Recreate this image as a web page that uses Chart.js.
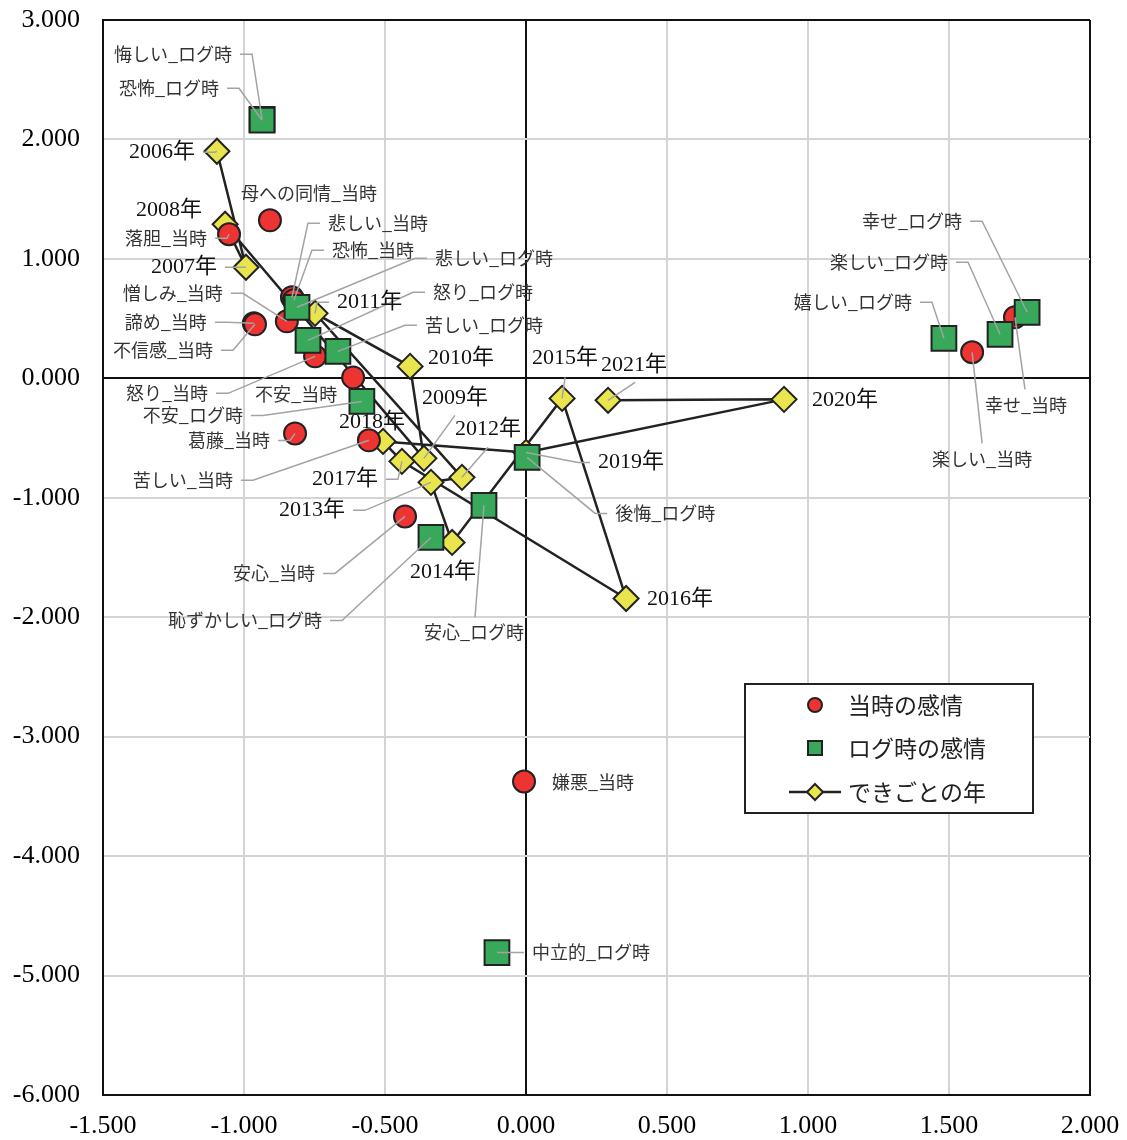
<!DOCTYPE html>
<html><head><meta charset="utf-8">
<script src="https://cdn.jsdelivr.net/npm/chart.js@4/dist/chart.umd.min.js"></script>
<style>html,body{margin:0;padding:0;background:#fff;}canvas{display:block}</style>
</head><body>
<canvas id="c" width="1127" height="1140"></canvas>
<script>
// ---- data ----
const seriesNames = ['当時の感情', 'ログ時の感情', 'できごとの年'];
const xTicks = [-1.5, -1.0, -0.5, 0, 0.5, 1.0, 1.5, 2.0];
const yTicks = [3, 2, 1, 0, -1, -2, -3, -4, -5, -6];

const nowNames = ['母への同情_当時','落胆_当時','悲しい_当時','恐怖_当時','憎しみ_当時','諦め_当時','不信感_当時','怒り_当時','不安_当時','葛藤_当時','苦しい_当時','安心_当時','嫌悪_当時','幸せ_当時','楽しい_当時'];
const nowX = [-0.908,-1.053,-0.830,-0.823,-0.848,-0.965,-0.961,-0.748,-0.613,-0.819,-0.557,-0.429,-0.007,1.734,1.582];
const nowY = [1.323,1.206,0.678,0.653,0.477,0.461,0.452,0.184,0.008,-0.461,-0.519,-1.156,-3.375,0.511,0.218];

const logNames = ['悔しい_ログ時','恐怖_ログ時','悲しい_ログ時','怒り_ログ時','苦しい_ログ時','不安_ログ時','恥ずかしい_ログ時','安心_ログ時','後悔_ログ時','中立的_ログ時','嬉しい_ログ時','楽しい_ログ時','幸せ_ログ時'];
const logX = [-0.936,-0.936,-0.812,-0.773,-0.667,-0.582,-0.337,-0.149,0.004,-0.103,1.482,1.681,1.777];
const logY = [2.169,2.161,0.595,0.318,0.226,-0.193,-1.332,-1.064,-0.662,-4.807,0.335,0.369,0.553];

const yearNames = ['2006年','2007年','2008年','2009年','2010年','2011年','2012年','2013年','2014年','2015年','2016年','2017年','2018年','2019年','2020年','2021年'];
const yearX = [-1.096,-0.993,-1.067,-0.362,-0.411,-0.748,-0.227,-0.337,-0.262,0.128,0.355,-0.440,-0.507,0.000,0.915,0.291];
const yearY = [1.901,0.930,1.290,-0.670,0.100,0.544,-0.829,-0.871,-1.374,-0.168,-1.843,-0.695,-0.528,-0.620,-0.176,-0.184];

// ---- label layout (pixel offsets from the marker; styling only) ----
// [dx, dy, align, leader]  leader: 'h' elbow, [lx,ly] straight from offset, 0 none
const labelLayout = {
  '母への同情_当時':[39,-27,'c',0],
  '落胆_当時':[-22,4,'r','h'],
  '悲しい_当時':[36,-74,'l','h'],
  '恐怖_当時':[38,-50,'l','h'],
  '憎しみ_当時':[-64,-28,'r','h'],
  '諦め_当時':[-47,-1,'r','h'],
  '不信感_当時':[-42,26,'r','h'],
  '怒り_当時':[-107,37,'r','h'],
  '不安_当時':[-16,17,'r',0],
  '葛藤_当時':[-25,7,'r','h'],
  '苦しい_当時':[-136,40,'r','h'],
  '安心_当時':[-90,57,'r','h'],
  '嫌悪_当時':[28,1,'l',0],
  '幸せ_当時':[11,88,'c',[10,72]],
  '楽しい_当時':[10,107,'c',[10,91]],
  '悔しい_ログ時':[-30,-65,'r','h'],
  '恐怖_ログ時':[-43,-32,'r','h'],
  '悲しい_ログ時':[138,-49,'l','h'],
  '怒り_ログ時':[125,-48,'l','h'],
  '苦しい_ログ時':[87,-26,'l','h'],
  '不安_ログ時':[-119,14,'r','h'],
  '恥ずかしい_ログ時':[-109,83,'r','h'],
  '安心_ログ時':[-10,127,'c',[-9,112]],
  '後悔_ログ時':[88,56,'l','h'],
  '中立的_ログ時':[35,0,'l','h'],
  '嬉しい_ログ時':[-32,-36,'r','h'],
  '楽しい_ログ時':[-52,-72,'r','h'],
  '幸せ_ログ時':[-65,-91,'r','h'],
  '2006年':[-22,1,'r','h'],
  '2007年':[-29,0,'r','h'],
  '2008年':[-23,-14,'r',0],
  '2009年':[31,-60,'c',[31,-43]],
  '2010年':[18,-8,'l',0],
  '2011年':[22,-11,'l','h'],
  '2012年':[26,-48,'c',[26,-30]],
  '2013年':[-86,28,'r','h'],
  '2014年':[-9,30,'c',0],
  '2015年':[3,-40,'c',[3,-21]],
  '2016年':[21,1,'l',0],
  '2017年':[-24,18,'r','h'],
  '2018年':[-11,-19,'c',0],
  '2019年':[72,10,'l','h'],
  '2020年':[28,1,'l',0],
  '2021年':[26,-35,'c',[27,-18]]
};

const RED = '#EE3333', GREEN = '#38A95A', YELLOW = '#E9E54F', EDGE = '#222222';
const EMO_FONT = "18px 'Noto Sans CJK JP', sans-serif";
const YEAR_FONT = "22px 'Liberation Serif', 'Noto Sans CJK JP', serif";

const toPts = (xs, ys) => xs.map((x, i) => ({x: x, y: ys[i]}));

const labelPlugin = {
  id: 'pointLabels',
  afterDatasetsDraw(chart) {
    const ctx = chart.ctx;
    chart.data.datasets.forEach((ds, di) => {
      const meta = chart.getDatasetMeta(di);
      meta.data.forEach((pt, i) => {
        const name = ds.names[i];
        const lay = labelLayout[name];
        if (!lay) return;
        const [dx, dy, al, ld] = lay;
        const ax = pt.x + dx, ay = pt.y + dy;
        ctx.save();
        ctx.strokeStyle = '#a3a3a3';
        ctx.lineWidth = 1.5;
        if (ld === 'h') {
          const s = al === 'r' ? 1 : -1;
          ctx.beginPath();
          ctx.moveTo(ax + s * 8, ay);
          ctx.lineTo(ax + s * 20, ay);
          ctx.lineTo(pt.x, pt.y);
          ctx.stroke();
        } else if (Array.isArray(ld)) {
          ctx.beginPath();
          ctx.moveTo(pt.x + ld[0], pt.y + ld[1]);
          ctx.lineTo(pt.x, pt.y);
          ctx.stroke();
        }
        ctx.font = ds.labelFont;
        ctx.fillStyle = ds.labelColor;
        ctx.textBaseline = 'middle';
        ctx.textAlign = al === 'l' ? 'left' : (al === 'r' ? 'right' : 'center');
        ctx.fillText(name, ax, ay);
        ctx.restore();
      });
    });
  }
};

const legendPlugin = {
  id: 'boxLegend',
  afterDraw(chart) {
    const ctx = chart.ctx;
    const a = chart.chartArea;
    const bx = a.left + 642, by = a.top + 664, bw = 288, bh = 129;
    ctx.save();
    ctx.fillStyle = '#fff';
    ctx.fillRect(bx, by, bw, bh);
    ctx.strokeStyle = '#222';
    ctx.lineWidth = 2;
    ctx.strokeRect(bx, by, bw, bh);
    const mx = bx + 70, tx = bx + 103;
    const rows = [by + 21, by + 64, by + 108];
    ctx.lineWidth = 2;
    ctx.strokeStyle = EDGE;
    ctx.fillStyle = RED;
    ctx.beginPath(); ctx.arc(mx, rows[0], 7, 0, Math.PI * 2); ctx.fill(); ctx.stroke();
    ctx.fillStyle = GREEN;
    ctx.fillRect(mx - 7, rows[1] - 7, 14, 14); ctx.strokeRect(mx - 7, rows[1] - 7, 14, 14);
    ctx.beginPath(); ctx.moveTo(mx - 26, rows[2]); ctx.lineTo(mx + 26, rows[2]); ctx.lineWidth = 2.5; ctx.stroke();
    ctx.lineWidth = 2;
    ctx.fillStyle = YELLOW;
    ctx.beginPath();
    ctx.moveTo(mx, rows[2] - 8); ctx.lineTo(mx + 8, rows[2]); ctx.lineTo(mx, rows[2] + 8); ctx.lineTo(mx - 8, rows[2]); ctx.closePath();
    ctx.fill(); ctx.stroke();
    ctx.font = "23px 'Noto Sans CJK JP', sans-serif";
    ctx.fillStyle = '#222';
    ctx.textBaseline = 'middle';
    ctx.textAlign = 'left';
    seriesNames.forEach((s, i) => ctx.fillText(s, tx, rows[i]));
    ctx.restore();
  }
};

const edgeColor = (ctx, lo, hi) => {
  const v = ctx.tick ? ctx.tick.value : null;
  return (v === 0 || v === lo || v === hi) ? '#111' : '#d4d4d4';
};

new Chart(document.getElementById('c'), {
  type: 'scatter',
  data: {
    datasets: [
      {
        label: seriesNames[0], names: nowNames, data: toPts(nowX, nowY),
        pointStyle: 'circle', pointRadius: 11, pointHoverRadius: 11,
        backgroundColor: RED, borderColor: EDGE, borderWidth: 2,
        labelFont: EMO_FONT, labelColor: '#333', order: 1
      },
      {
        label: seriesNames[1], names: logNames, data: toPts(logX, logY),
        pointStyle: 'rect', pointRadius: 17.5, pointHoverRadius: 17.5,
        backgroundColor: GREEN, borderColor: EDGE, borderWidth: 2,
        labelFont: EMO_FONT, labelColor: '#333', order: 0
      },
      {
        label: seriesNames[2], names: yearNames, data: toPts(yearX, yearY),
        showLine: true, borderColor: EDGE, borderWidth: 2.5,
        pointStyle: 'rectRot', pointRadius: 12.5, pointHoverRadius: 12.5,
        pointBackgroundColor: YELLOW, pointBorderColor: EDGE, pointBorderWidth: 2,
        labelFont: YEAR_FONT, labelColor: '#111', order: 2
      }
    ]
  },
  options: {
    responsive: false,
    animation: false,
    events: [],
    layout: { padding: { top: 20, right: 37, left: 0, bottom: 0 } },
    plugins: { legend: { display: false }, tooltip: { enabled: false } },
    scales: {
      x: {
        type: 'linear', min: -1.5, max: 2.0,
        afterBuildTicks: s => { s.ticks = xTicks.map(v => ({ value: v })); },
        afterFit: s => { s.height = 45; },
        grid: { color: c => edgeColor(c, -1.5, 2.0), lineWidth: 2, drawTicks: true, tickLength: 16, tickColor: 'rgba(0,0,0,0)' },
        border: { display: true, color: '#111', width: 2 },
        ticks: { color: '#000', padding: 0, maxRotation: 0, autoSkip: false,
          font: { family: "'Liberation Serif', serif", size: 26 },
          callback: v => Number(v).toFixed(3) }
      },
      y: {
        type: 'linear', min: -6, max: 3,
        afterBuildTicks: s => { s.ticks = yTicks.map(v => ({ value: v })); },
        afterFit: s => { s.width = 103; },
        grid: { color: c => edgeColor(c, -6, 3), lineWidth: 2, drawTicks: true, tickLength: 23, tickColor: 'rgba(0,0,0,0)' },
        border: { display: true, color: '#111', width: 2 },
        ticks: { color: '#000', padding: 0, autoSkip: false,
          font: { family: "'Liberation Serif', serif", size: 26 },
          callback: v => Number(v).toFixed(3) }
      }
    }
  },
  plugins: [labelPlugin, legendPlugin]
});
</script>
</body></html>
